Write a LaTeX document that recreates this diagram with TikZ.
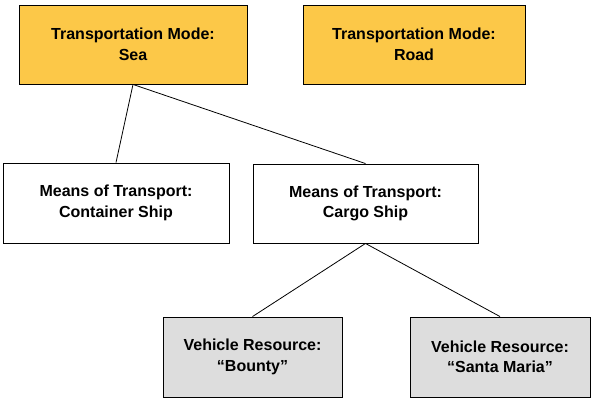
\documentclass[tikz,border=0pt]{standalone}
\usepackage{fontspec}
\setmainfont{Liberation Sans}
\definecolor{modecol}{RGB}{252,200,72}
\definecolor{rescol}{RGB}{221,221,221}
\begin{document}
\begin{tikzpicture}[x=1pt,y=-1pt,
  box/.style={draw=black,line width=0.9pt,rectangle,align=center,inner sep=0pt,
    font=\fontsize{16}{20.5}\selectfont\bfseries},
  mode/.style={box,fill=modecol},
  means/.style={box,fill=white},
  res/.style={box,fill=rescol},
  link/.style={draw=black,line width=0.8pt}]
\useasboundingbox[fill=white] (0,0) rectangle (595,405);
\node[mode,minimum width=228pt,minimum height=79pt] (sea) at (133,44.5) {Transportation Mode:\\Sea};
\node[mode,minimum width=222pt,minimum height=79pt] (road) at (414,44.5) {Transportation Mode:\\Road};
\node[means,minimum width=226pt,minimum height=80pt] (cont) at (116,203) {Means of Transport:\\Container Ship};
\node[means,minimum width=225pt,minimum height=79pt] (cargo) at (365.5,203.5) {Means of Transport:\\Cargo Ship};
\node[res,minimum width=179pt,minimum height=80pt] (bounty) at (252.5,357) {Vehicle Resource:\\“Bounty”};
\node[res,minimum width=180pt,minimum height=80pt] (santa) at (500,357) {Vehicle Resource:\\“Santa Maria”};
\draw[link] (sea.south) -- (cont.north);
\draw[link] (sea.south) -- (cargo.north);
\draw[link] (cargo.south) -- (bounty.north);
\draw[link] (cargo.south) -- (santa.north);
\end{tikzpicture}
\end{document}
